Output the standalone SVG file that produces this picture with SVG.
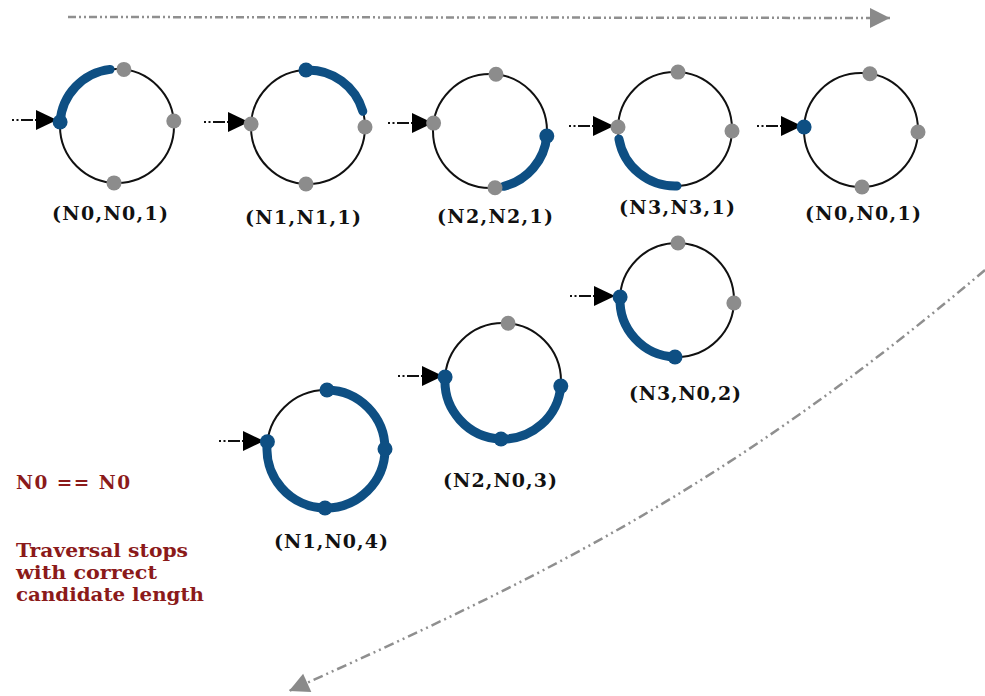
<svg xmlns="http://www.w3.org/2000/svg" xmlns:xlink="http://www.w3.org/1999/xlink" width="985" height="696" viewBox="0 0 985 696">
<style>
.ring{fill:none;stroke:#111;stroke-width:2}
.blue{fill:none;stroke:#0e4f83;stroke-width:9;stroke-linecap:round;stroke-linejoin:round}
.gn{fill:#8c8c8c}
.bn{fill:#0e4f83}
.lbl{font-family:"DejaVu Serif","Liberation Serif",serif;font-weight:bold;font-size:19px;fill:#111;text-anchor:middle}
.note{font-family:"DejaVu Serif","Liberation Serif",serif;font-weight:bold;font-size:18.5px;fill:#8b1a1a}
.flow{fill:none;stroke:#8f8f8f;stroke-width:2.5}
</style>
<defs>
<marker id="gh" viewBox="0 0 10 10" refX="10" refY="5" markerWidth="22" markerHeight="20" markerUnits="userSpaceOnUse" orient="auto"><path d="M0,0 L10,5 L0,10z" fill="#8a8a8a"/></marker>
<g id="inArrow"><line x1="-45" y1="0" x2="-21" y2="0" stroke="#111" stroke-width="2" stroke-dasharray="2 2.5 2 2.5 12"/><path d="M-21,-10 L0,0 L-21,10z" fill="#000"/></g>
</defs>
<g id="connectors">
<line class="flow" x1="68" y1="17" x2="890" y2="18" stroke-dasharray="8 3 2 3 2 3" marker-end="url(#gh)"/>
<path class="flow" d="M985,270 C725,490 540,578 289,691" stroke-width="2" stroke-dasharray="10 4 2 4 2 4" marker-end="url(#gh)"/>
</g>
<g id="c1">
<use xlink:href="#inArrow" transform="translate(57,120)"/>
<circle class="ring" cx="117" cy="126" r="57"/>
<path class="blue" d="M60.1,122 A57,57 0 0 1 110.1,69.4"/>
<circle class="bn" cx="60.1" cy="122" r="7.5"/>
<circle class="gn" cx="123.9" cy="69.4" r="7.5"/>
<circle class="gn" cx="173.8" cy="121" r="7.5"/>
<circle class="gn" cx="114" cy="182.9" r="7.5"/>
<text class="lbl" x="110" y="220" textLength="116" lengthAdjust="spacing">(N0,N0,1)</text>
</g>
<g id="c2">
<use xlink:href="#inArrow" transform="translate(249,122)"/>
<circle class="ring" cx="308" cy="127" r="57"/>
<path class="blue" d="M306,70 A57,57 0 0 1 362.8,111.3"/>
<circle class="bn" cx="306" cy="70" r="7.5"/>
<circle class="gn" cx="251.1" cy="124" r="7.5"/>
<circle class="gn" cx="365" cy="127" r="7.5"/>
<circle class="gn" cx="306" cy="184" r="7.5"/>
<text class="lbl" x="303" y="224" textLength="116" lengthAdjust="spacing">(N1,N1,1)</text>
</g>
<g id="c3">
<use xlink:href="#inArrow" transform="translate(433,123)"/>
<circle class="ring" cx="490" cy="131" r="57"/>
<path class="blue" d="M546.8,136 A57,57 0 0 1 503.8,186.3"/>
<circle class="bn" cx="546.8" cy="136" r="7.5"/>
<circle class="gn" cx="433.6" cy="123.1" r="7.5"/>
<circle class="gn" cx="496" cy="74.3" r="7.5"/>
<circle class="gn" cx="495" cy="187.8" r="7.5"/>
<text class="lbl" x="495" y="223" textLength="116" lengthAdjust="spacing">(N2,N2,1)</text>
</g>
<g id="c4">
<use xlink:href="#inArrow" transform="translate(614,126)"/>
<circle class="ring" cx="675" cy="129" r="57"/>
<path class="blue" d="M618.9,138.9 A57,57 0 0 0 677,186"/>
<circle class="gn" cx="618" cy="127" r="7.5"/>
<circle class="gn" cx="678" cy="72.1" r="7.5"/>
<circle class="gn" cx="732" cy="131" r="7.5"/>
<text class="lbl" x="677" y="214" textLength="116" lengthAdjust="spacing">(N3,N3,1)</text>
</g>
<g id="c5">
<use xlink:href="#inArrow" transform="translate(802,126)"/>
<circle class="ring" cx="861" cy="130" r="57"/>
<circle class="bn" cx="804.1" cy="127" r="7.5"/>
<circle class="gn" cx="869.9" cy="73.7" r="7.5"/>
<circle class="gn" cx="918" cy="132" r="7.5"/>
<circle class="gn" cx="862" cy="187" r="7.5"/>
<text class="lbl" x="863" y="220" textLength="116" lengthAdjust="spacing">(N0,N0,1)</text>
</g>
<g id="c6">
<use xlink:href="#inArrow" transform="translate(615,296)"/>
<circle class="ring" cx="677" cy="300" r="57"/>
<path class="blue" d="M620.1,297 A57,57 0 0 0 675,357"/>
<circle class="bn" cx="620.1" cy="297" r="7.5"/>
<circle class="bn" cx="675" cy="357" r="7.5"/>
<circle class="gn" cx="678" cy="243" r="7.5"/>
<circle class="gn" cx="733.9" cy="303" r="7.5"/>
<text class="lbl" x="685" y="400" textLength="112" lengthAdjust="spacing">(N3,N0,2)</text>
</g>
<g id="c7">
<use xlink:href="#inArrow" transform="translate(443,376)"/>
<circle class="ring" cx="503" cy="381" r="58"/>
<path class="blue" d="M445.1,377 A58,58 0 0 0 501,439 A58,58 0 0 0 560.8,386.1"/>
<circle class="bn" cx="445.1" cy="377" r="7.5"/>
<circle class="bn" cx="501" cy="439" r="7.5"/>
<circle class="bn" cx="560.8" cy="386.1" r="7.5"/>
<circle class="gn" cx="508.1" cy="323.2" r="7.5"/>
<text class="lbl" x="500" y="487" textLength="114" lengthAdjust="spacing">(N2,N0,3)</text>
</g>
<g id="c8">
<use xlink:href="#inArrow" transform="translate(264,441)"/>
<circle class="ring" cx="326" cy="449" r="59"/>
<path class="blue" d="M267.4,441.8 A59,59 0 0 0 325,508 A59,59 0 0 0 385,449 A59,59 0 0 0 327,390"/>
<circle class="bn" cx="267.4" cy="441.8" r="7.5"/>
<circle class="bn" cx="325" cy="508" r="7.5"/>
<circle class="bn" cx="385" cy="449" r="7.5"/>
<circle class="bn" cx="327" cy="390" r="7.5"/>
<text class="lbl" x="331" y="548" textLength="114" lengthAdjust="spacing">(N1,N0,4)</text>
</g>
<g id="notes">
<text class="note" x="16" y="489" font-size="19" textLength="114" lengthAdjust="spacing">N0 == N0</text>
<text class="note" x="16" y="557" textLength="172" lengthAdjust="spacingAndGlyphs">Traversal stops</text>
<text class="note" x="16" y="579" textLength="141" lengthAdjust="spacingAndGlyphs">with correct</text>
<text class="note" x="16" y="601" textLength="188" lengthAdjust="spacingAndGlyphs">candidate length</text>
</g>
</svg>
